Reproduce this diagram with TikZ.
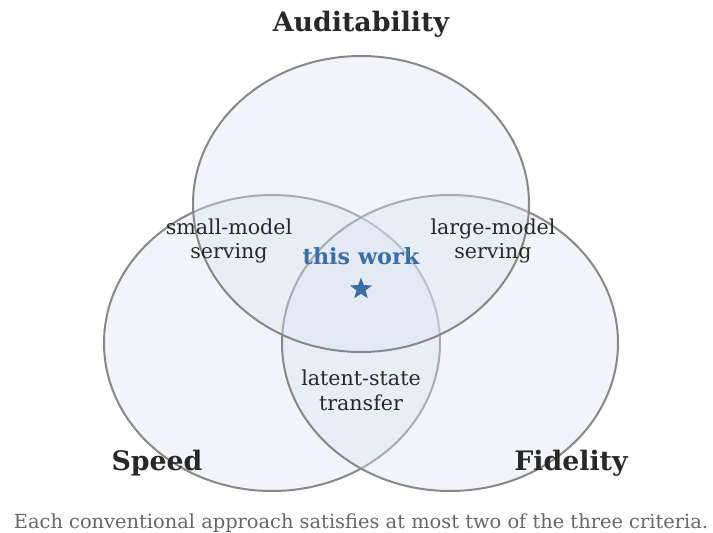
\documentclass[tikz,border=0pt]{standalone}
\usepackage{fontspec}
\setmainfont{DejaVu Serif}
\usetikzlibrary{shapes.geometric}
\definecolor{ringfill}{RGB}{220,228,240}
\definecolor{ringline}{RGB}{136,136,136}
\definecolor{txt}{RGB}{40,40,40}
\definecolor{accent}{RGB}{58,110,165}
\definecolor{captxt}{RGB}{102,102,102}
\tikzset{
  ring/.style={ellipse, draw=ringline, line width=2pt, fill=ringfill, fill opacity=0.4, draw opacity=1, minimum width=336pt, minimum height=296pt, inner sep=0pt},
  setname/.style={font=\fontsize{26.8}{32}\selectfont\bfseries, text=txt},
  region/.style={font=\fontsize{20.6}{24.8}\selectfont, text=txt, align=center},
}
\begin{document}
\begin{tikzpicture}[x=1pt,y=1pt]
\useasboundingbox (0,0) rectangle (713,-533);
\node[ring] (S) at (272,-343) {};
\node[ring] (F) at (450,-343) {};
\node[ring] (A) at (361,-204) {};
\node[setname] (tA) at (361,-24) {Auditability};
\node[setname] (tS) at (157,-463) {Speed};
\node[setname] (tF) at (571,-463) {Fidelity};
\node[region] (sm) at (229,-241) {small-model\\serving};
\node[region] (lm) at (493,-241) {large-model\\serving};
\node[region] (ls) at (361,-390) {latent-state\\transfer};
\node[font=\fontsize{22.3}{26}\selectfont\bfseries, text=accent] (tw) at (361,-256) {this work};
\node[star, star points=5, star point ratio=2.4, fill=accent, minimum size=23pt, inner sep=0pt] (st) at (361,-289) {};
\node[font=\fontsize{19.4}{23}\selectfont, text=captxt, inner sep=0pt, anchor=base] (cap) at (361,-528.3) {Each conventional approach satisfies at most two of the three criteria.};
\end{tikzpicture}
\end{document}
